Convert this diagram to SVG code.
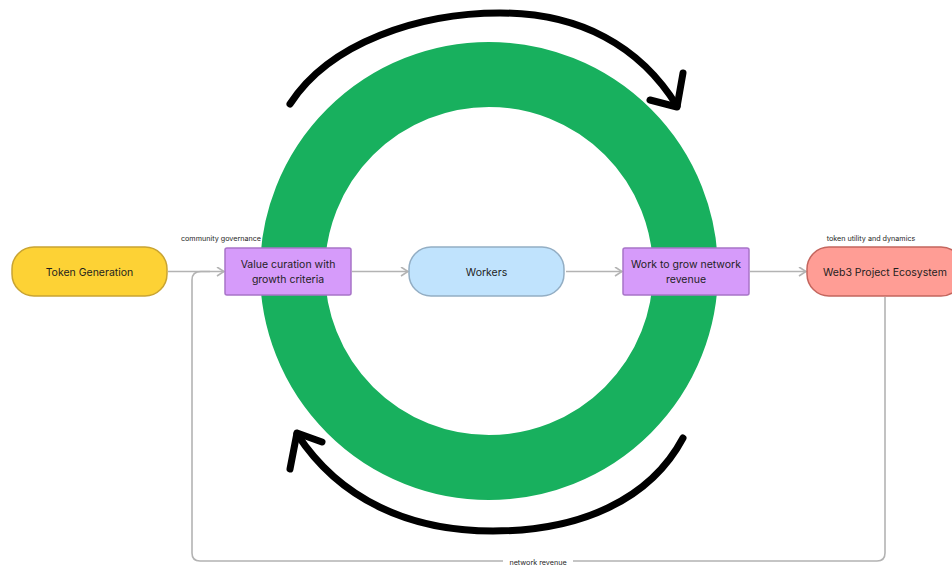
<svg xmlns="http://www.w3.org/2000/svg" width="952" height="565" viewBox="0 0 952 565">
<defs>
<style>
.t{font-family:Inter,"Liberation Sans",sans-serif;font-size:10.5px;fill:#1e1e1e;text-anchor:middle}
.s{font-family:Inter,"Liberation Sans",sans-serif;font-size:7.2px;fill:#1e1e1e;text-anchor:middle}
.c{fill:none;stroke:#b3b3b3;stroke-width:1.6}
.k{fill:none;stroke:#000;stroke-width:7;stroke-linecap:round;stroke-linejoin:round}
</style>
<marker id="ah" viewBox="0 0 10 10" refX="9" refY="5" markerWidth="10" markerHeight="10" markerUnits="userSpaceOnUse" orient="auto">
<path d="M2,0.5 L9,5 L2,9.5" fill="none" stroke="#b3b3b3" stroke-width="1.6"/>
</marker>
</defs>
<rect width="952" height="565" fill="#fff"/>
<g id="cycle">
<circle cx="489" cy="271" r="196.5" fill="none" stroke="#18b05e" stroke-width="65"/>
<path class="k" d="M290,104 C330,42 420,13 500,13 C580,13 640,46 677,106"/>
<path class="k" d="M683,73 L677,107 L650,100"/>
<path class="k" d="M683,438 C650,500 580,531 493,531 C410,531 340,500 297,434"/>
<path class="k" d="M290,469 L297,433 L322,442"/>
</g>
<g id="connectors">
<line class="c" x1="168" y1="271.5" x2="224" y2="271.5" marker-end="url(#ah)"/>
<line class="c" x1="352" y1="271.5" x2="408" y2="271.5" marker-end="url(#ah)"/>
<line class="c" x1="566" y1="271.5" x2="622" y2="271.5" marker-end="url(#ah)"/>
<line class="c" x1="750" y1="271.5" x2="806" y2="271.5" marker-end="url(#ah)"/>
<path class="c" d="M885,297 V553 Q885,561 877,561 H200 Q192,561 192,553 V280 Q192,271.5 201,271.5 H210"/>
<rect x="503" y="557" width="70" height="8" fill="#fff"/>
<text class="s" x="538" y="564.5">network revenue</text>
<text class="s" x="221" y="240.5">community governance</text>
<text class="s" x="871" y="240.5">token utility and dynamics</text>
</g>
<g id="token-generation">
<rect x="12" y="247" width="155" height="49" rx="22" fill="#fdd235" stroke="#c9a432" stroke-width="1.5"/>
<text class="t" x="89.5" y="275.5">Token Generation</text>
</g>
<g id="value-curation">
<rect x="225" y="248" width="126" height="47" rx="2" fill="#d69bfa" stroke="#a874c8" stroke-width="1.5"/>
<text class="t" x="288" y="268">Value curation with</text>
<text class="t" x="288" y="283">growth criteria</text>
</g>
<g id="workers">
<rect x="409" y="247" width="155" height="49" rx="22" fill="#c0e3fd" stroke="#93aec4" stroke-width="1.5"/>
<text class="t" x="486.5" y="275.5">Workers</text>
</g>
<g id="work-to-grow">
<rect x="623" y="248" width="126" height="47" rx="2" fill="#d69bfa" stroke="#a874c8" stroke-width="1.5"/>
<text class="t" x="686" y="268">Work to grow network</text>
<text class="t" x="686" y="283">revenue</text>
</g>
<g id="web3-ecosystem">
<rect x="807" y="247" width="156" height="49" rx="22" fill="#ff9d95" stroke="#c4665e" stroke-width="1.5"/>
<text class="t" x="885" y="275.5">Web3 Project Ecosystem</text>
</g>
</svg>
